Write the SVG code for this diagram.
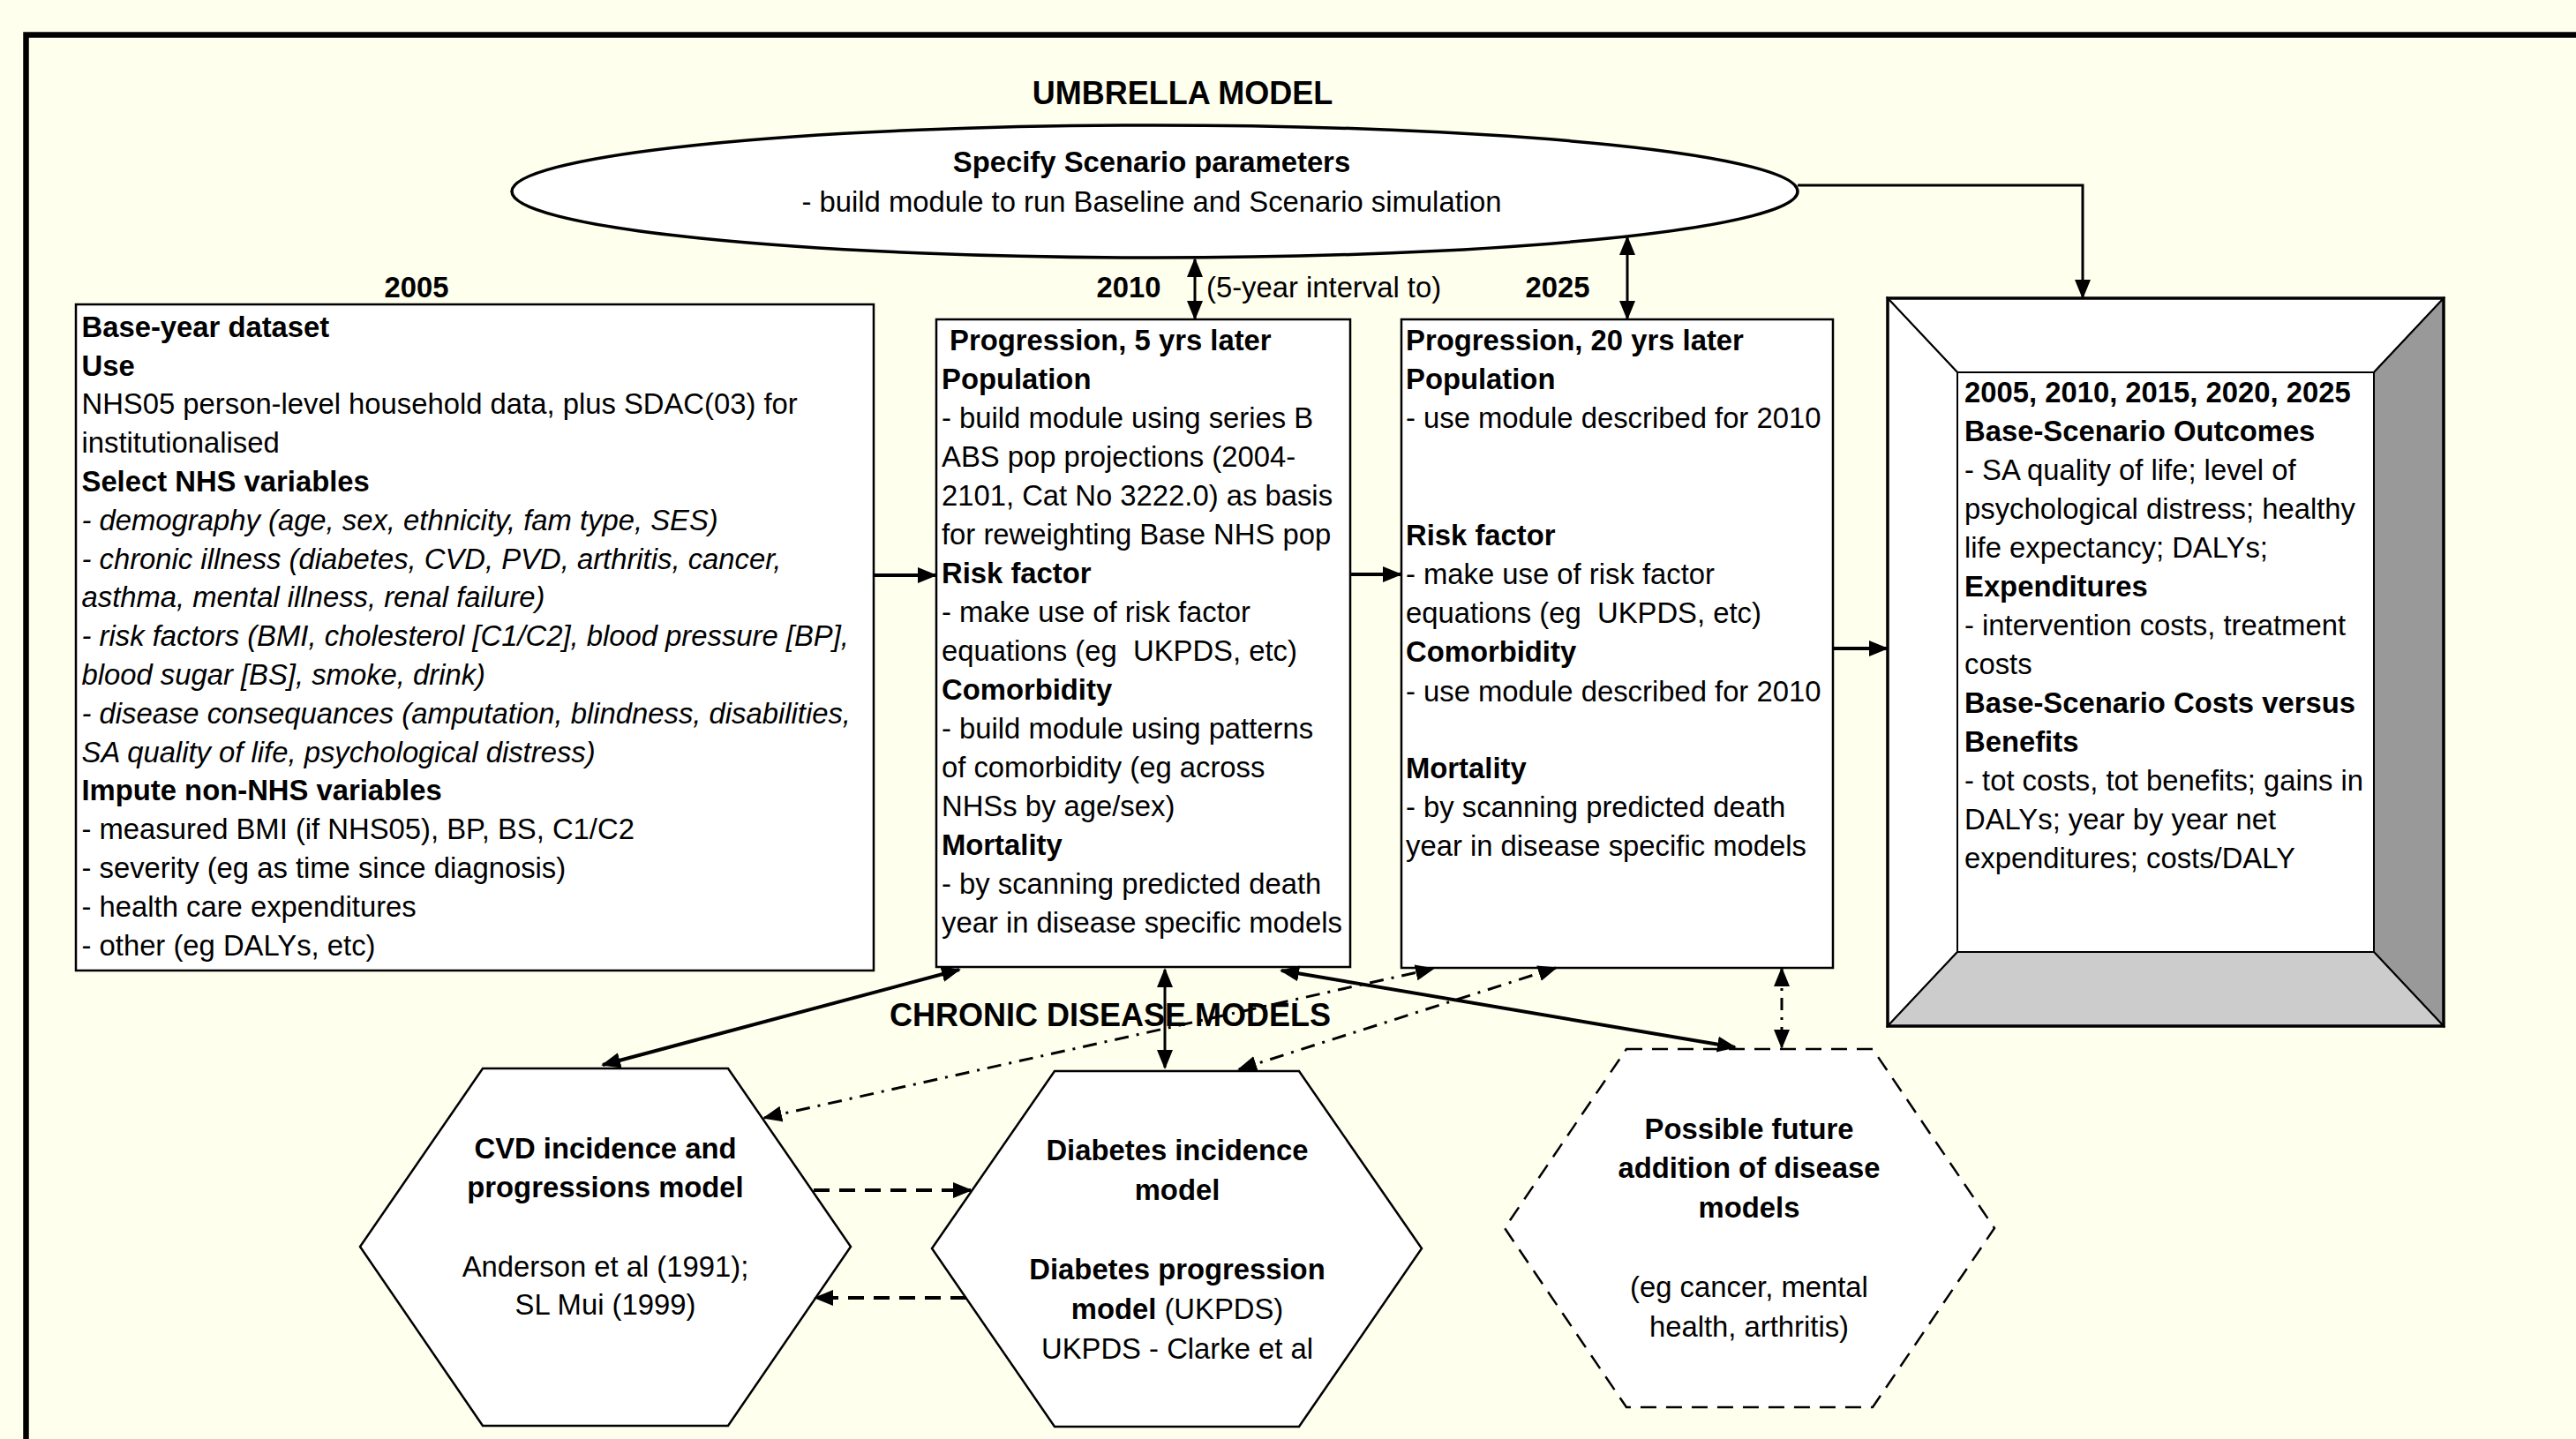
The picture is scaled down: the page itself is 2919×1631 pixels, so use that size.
<svg xmlns="http://www.w3.org/2000/svg" width="2919" height="1631" viewBox="0 0 2919 1631">
<style>
text{font-family:"Liberation Sans",Arial,sans-serif;font-size:32.8px;fill:#000;white-space:pre}
.b{font-weight:bold}
.i{font-style:italic}
.h{font-weight:bold;font-size:36px}
.c{text-anchor:middle}
.box{fill:#fff;stroke:#000;stroke-width:2.5}
.hex{fill:#fff;stroke:#000;stroke-width:2.5}
.ln{fill:none;stroke:#000;stroke-width:3}
.thk{stroke-width:4}
.dash{stroke-dasharray:18 11}
.dd{stroke-dasharray:16 9 3 9}
</style>
<defs>
<marker id="ah" markerUnits="userSpaceOnUse" markerWidth="22" markerHeight="22" viewBox="0 0 22 22" refX="20" refY="11" orient="auto-start-reverse">
<path d="M0,2 L22,11 L0,20 z" fill="#000"/>
</marker>
</defs>
<rect x="0" y="0" width="2919" height="1631" fill="#FFFFEE"/>
<rect x="29.5" y="39.5" width="3000" height="2000" fill="none" stroke="#000" stroke-width="6.5"/>

<text class="h c" x="1340" y="118">UMBRELLA MODEL</text>
<text class="h c" x="1258" y="1163">CHRONIC DISEASE MODELS</text>

<g id="scenario">
<ellipse cx="1308.5" cy="217" rx="728.5" ry="75" fill="#fff" stroke="#000" stroke-width="3.5"/>
<text class="b c" x="1305" y="195">Specify Scenario parameters</text>
<text class="c" x="1305" y="240">- build module to run Baseline and Scenario simulation</text>
</g>

<g id="labels">
<text class="b c" x="472" y="337">2005</text>
<text class="b c" x="1279" y="337">2010</text>
<text x="1367" y="337">(5-year interval to)</text>
<text class="b c" x="1765" y="337">2025</text>
</g>

<g id="base2005">
<rect class="box" x="86" y="345" width="904" height="755"/>
<text class="b" x="92.5" y="381.7">Base-year dataset</text>
<text class="b" x="92.5" y="425.5">Use</text>
<text x="92.5" y="469.3">NHS05 person-level household data, plus SDAC(03) for</text>
<text x="92.5" y="513.1">institutionalised</text>
<text class="b" x="92.5" y="556.9">Select NHS variables</text>
<text class="i" x="92.5" y="600.7">- demography (age, sex, ethnicity, fam type, SES)</text>
<text class="i" x="92.5" y="644.5">- chronic illness (diabetes, CVD, PVD, arthritis, cancer,</text>
<text class="i" x="92.5" y="688.3">asthma, mental illness, renal failure)</text>
<text class="i" x="92.5" y="732.1">- risk factors (BMI, cholesterol [C1/C2], blood pressure [BP],</text>
<text class="i" x="92.5" y="775.9">blood sugar [BS], smoke, drink)</text>
<text class="i" x="92.5" y="819.7">- disease consequances (amputation, blindness, disabilities,</text>
<text class="i" x="92.5" y="863.5">SA quality of life, psychological distress)</text>
<text class="b" x="92.5" y="907.3">Impute non-NHS variables</text>
<text x="92.5" y="951.1">- measured BMI (if NHS05), BP, BS, C1/C2</text>
<text x="92.5" y="994.9">- severity (eg as time since diagnosis)</text>
<text x="92.5" y="1038.7">- health care expenditures</text>
<text x="92.5" y="1082.5">- other (eg DALYs, etc)</text>
</g>

<g id="prog2010">
<rect class="box" x="1061" y="362" width="469" height="734"/>
<text class="b" x="1076" y="397">Progression, 5 yrs later</text>
<text class="b" x="1067" y="441">Population</text>
<text x="1067" y="485">- build module using series B</text>
<text x="1067" y="529">ABS pop projections (2004-</text>
<text x="1067" y="573">2101, Cat No 3222.0) as basis</text>
<text x="1067" y="617">for reweighting Base NHS pop</text>
<text class="b" x="1067" y="661">Risk factor</text>
<text x="1067" y="705">- make use of risk factor</text>
<text x="1067" y="749">equations (eg  UKPDS, etc)</text>
<text class="b" x="1067" y="793">Comorbidity</text>
<text x="1067" y="837">- build module using patterns</text>
<text x="1067" y="881">of comorbidity (eg across</text>
<text x="1067" y="925">NHSs by age/sex)</text>
<text class="b" x="1067" y="969">Mortality</text>
<text x="1067" y="1013">- by scanning predicted death</text>
<text x="1067" y="1057">year in disease specific models</text>
</g>

<g id="prog2025">
<rect class="box" x="1588" y="362" width="489" height="735"/>
<text class="b" x="1593" y="397">Progression, 20 yrs later</text>
<text class="b" x="1593" y="441">Population</text>
<text x="1593" y="485">- use module described for 2010</text>
<text class="b" x="1593" y="618">Risk factor</text>
<text x="1593" y="662">- make use of risk factor</text>
<text x="1593" y="706">equations (eg  UKPDS, etc)</text>
<text class="b" x="1593" y="750">Comorbidity</text>
<text x="1593" y="795">- use module described for 2010</text>
<text class="b" x="1593" y="882">Mortality</text>
<text x="1593" y="926">- by scanning predicted death</text>
<text x="1593" y="970">year in disease specific models</text>
</g>

<g id="outcomes">
<polygon points="2139,338 2769,338 2690,422 2218,422" fill="#fff" stroke="#000" stroke-width="2"/>
<polygon points="2139,338 2218,422 2218,1079 2139,1163" fill="#fff" stroke="#000" stroke-width="2"/>
<polygon points="2769,338 2769,1163 2690,1079 2690,422" fill="#999" stroke="#000" stroke-width="2"/>
<polygon points="2139,1163 2769,1163 2690,1079 2218,1079" fill="#ccc" stroke="#000" stroke-width="2"/>
<rect x="2218" y="422" width="472" height="657" fill="#fff" stroke="#000" stroke-width="2"/>
<rect x="2139" y="338" width="630" height="825" fill="none" stroke="#000" stroke-width="3.5"/>
<text class="b" x="2226" y="456">2005, 2010, 2015, 2020, 2025</text>
<text class="b" x="2226" y="500">Base-Scenario Outcomes</text>
<text x="2226" y="544">- SA quality of life; level of</text>
<text x="2226" y="588">psychological distress; healthy</text>
<text x="2226" y="632">life expectancy; DALYs;</text>
<text class="b" x="2226" y="676">Expenditures</text>
<text x="2226" y="720">- intervention costs, treatment</text>
<text x="2226" y="764">costs</text>
<text class="b" x="2226" y="808">Base-Scenario Costs versus</text>
<text class="b" x="2226" y="852">Benefits</text>
<text x="2226" y="896">- tot costs, tot benefits; gains in</text>
<text x="2226" y="940">DALYs; year by year net</text>
<text x="2226" y="984">expenditures; costs/DALY</text>
</g>

<g id="cvd">
<polygon class="hex" points="547,1211 825,1211 964,1413 825,1616 547,1616 408,1413"/>
<text class="b c" x="686" y="1313">CVD incidence and</text>
<text class="b c" x="686" y="1357">progressions model</text>
<text class="c" x="686" y="1447">Anderson et al (1991);</text>
<text class="c" x="686" y="1490">SL Mui (1999)</text>
</g>

<g id="diabetes">
<polygon class="hex" points="1195,1214 1472,1214 1611,1415 1472,1617 1195,1617 1056,1415"/>
<text class="b c" x="1334" y="1315">Diabetes incidence</text>
<text class="b c" x="1334" y="1360">model</text>
<text class="b c" x="1334" y="1450">Diabetes progression</text>
<text class="c" x="1334" y="1495"><tspan class="b">model</tspan> (UKPDS)</text>
<text class="c" x="1334" y="1540">UKPDS - Clarke et al</text>
</g>

<g id="future">
<polygon class="hex dash" points="1843,1189 2122,1189 2260,1392 2122,1595 1843,1595 1705,1392"/>
<text class="b c" x="1982" y="1291">Possible future</text>
<text class="b c" x="1982" y="1335">addition of disease</text>
<text class="b c" x="1982" y="1380">models</text>
<text class="c" x="1982" y="1470">(eg cancer, mental</text>
<text class="c" x="1982" y="1515">health, arthritis)</text>
</g>

<g id="connectors">
<line class="ln" x1="1354" y1="294" x2="1354" y2="361" marker-start="url(#ah)" marker-end="url(#ah)"/>
<line class="ln" x1="1844" y1="269" x2="1844" y2="361" marker-start="url(#ah)" marker-end="url(#ah)"/>
<polyline class="ln" points="2037,210 2360,210 2360,337" marker-end="url(#ah)"/>
<line class="ln thk" x1="990" y1="652" x2="1060" y2="652" marker-end="url(#ah)"/>
<line class="ln thk" x1="1530" y1="651" x2="1587" y2="651" marker-end="url(#ah)"/>
<line class="ln thk" x1="2077" y1="735" x2="2138" y2="735" marker-end="url(#ah)"/>
<line class="ln thk" x1="683" y1="1207" x2="1087" y2="1099" marker-start="url(#ah)" marker-end="url(#ah)"/>
<line class="ln" x1="1320" y1="1099" x2="1320" y2="1210" marker-start="url(#ah)" marker-end="url(#ah)"/>
<line class="ln thk" x1="1452" y1="1100" x2="1966" y2="1187" marker-start="url(#ah)" marker-end="url(#ah)"/>
<line class="ln" style="stroke-dasharray:14 8 3 8" x1="2019" y1="1098" x2="2019" y2="1187" marker-start="url(#ah)" marker-end="url(#ah)"/>
<line class="ln dd" x1="866" y1="1267" x2="1624" y2="1098" marker-start="url(#ah)" marker-end="url(#ah)"/>
<line class="ln dd" x1="1404" y1="1212" x2="1763" y2="1097" marker-start="url(#ah)" marker-end="url(#ah)"/>
<line class="ln thk dash" x1="922" y1="1349" x2="1100" y2="1349" marker-end="url(#ah)"/>
<line class="ln thk dash" x1="1095" y1="1471" x2="924" y2="1471" marker-end="url(#ah)"/>
</g>
</svg>
